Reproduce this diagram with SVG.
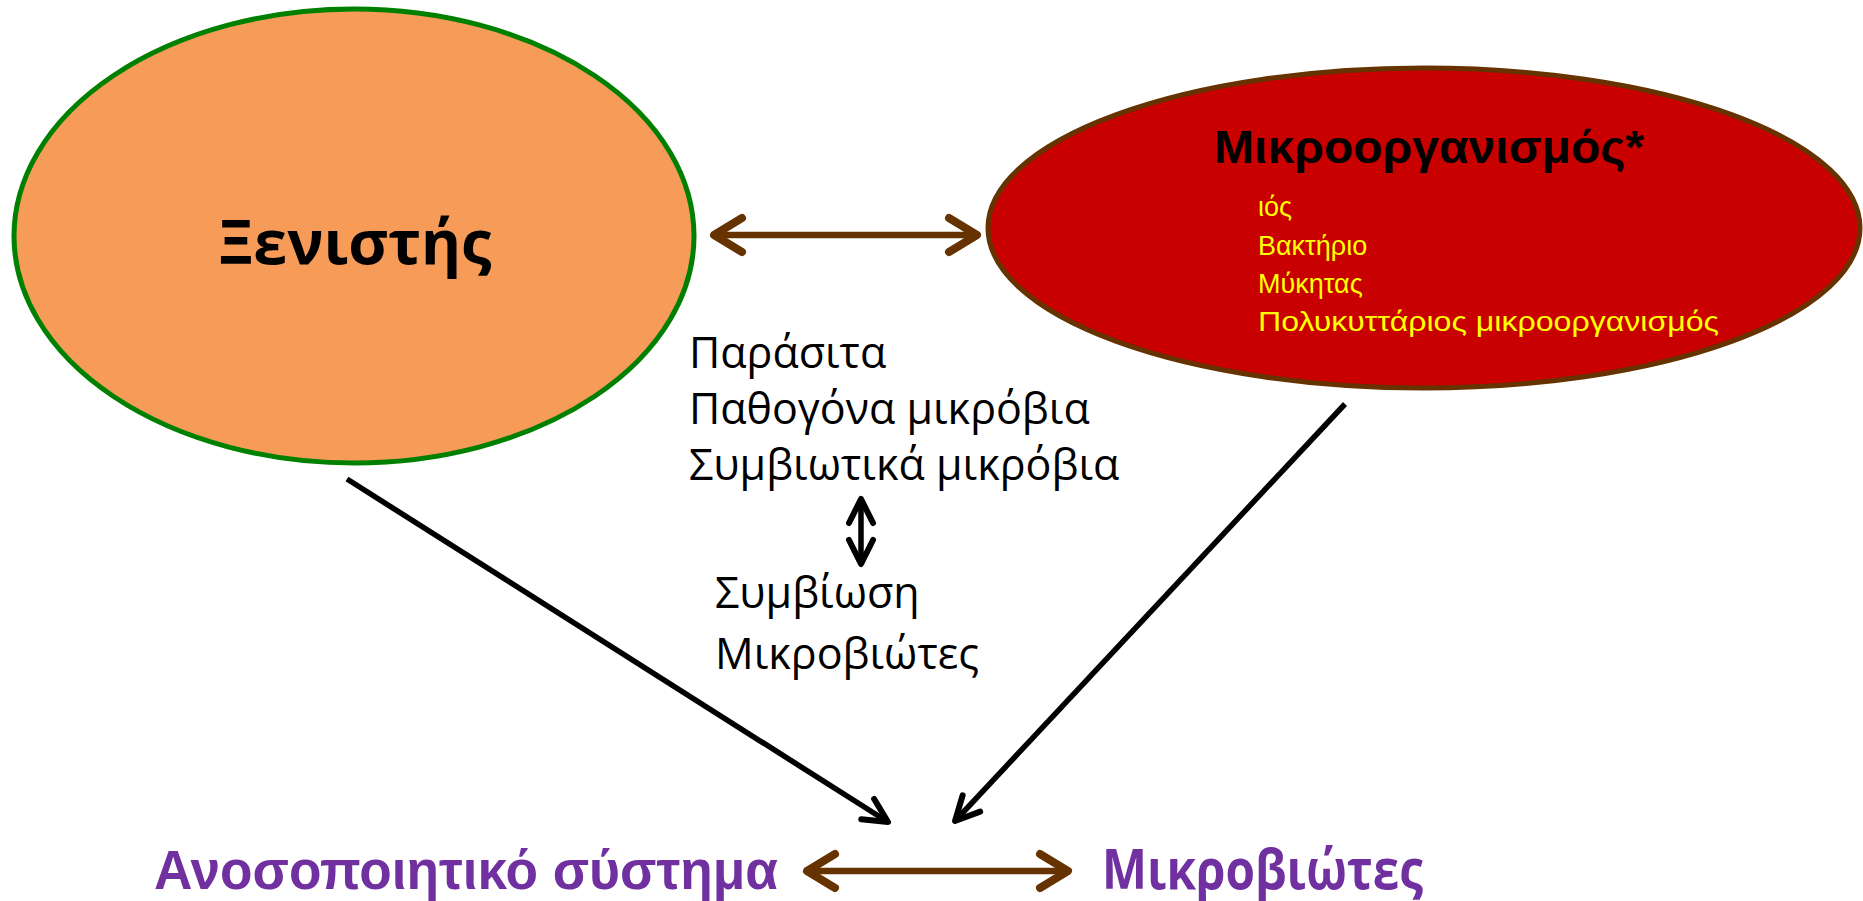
<svg xmlns="http://www.w3.org/2000/svg" width="1863" height="901" viewBox="0 0 1863 901">
<style>
.t{font-family:"Open Sans","Liberation Sans",sans-serif;fill:#000}
.b{font-family:"Liberation Sans",Arial,sans-serif;font-weight:bold}
.y{font-family:"Liberation Sans",Arial,sans-serif;fill:#FFFF00;font-size:27px}
.p{font-weight:bold;fill:#7030A0;font-size:56px}
.brown{stroke:#663300;stroke-width:6.5;fill:none}
.blk{stroke:#000;stroke-width:5.5;fill:none}
</style>
<defs>
<marker id="ab" markerUnits="userSpaceOnUse" viewBox="-40 -25 46 50" refX="0" refY="0" markerWidth="46" markerHeight="50" orient="auto-start-reverse">
<path d="M-28,-17 L0,0 L-28,17" fill="none" stroke="#663300" stroke-width="8" stroke-linecap="round" stroke-linejoin="round"/>
</marker>
<marker id="ak" markerUnits="userSpaceOnUse" viewBox="-40 -25 46 50" refX="0" refY="0" markerWidth="46" markerHeight="50" orient="auto-start-reverse">
<path d="M-24,-12 L0,0 L-24,12" fill="none" stroke="#000" stroke-width="6" stroke-linecap="round" stroke-linejoin="round"/>
</marker>
</defs>
<rect width="1863" height="901" fill="#fff"/>
<g id="host">
<ellipse cx="354" cy="236" rx="340" ry="227" fill="#F79B58" stroke="#008000" stroke-width="5"/>
<text class="t" x="355" y="264" font-size="61" font-weight="bold" text-anchor="middle">Ξενιστής</text>
</g>
<g id="microorganism">
<ellipse cx="1424" cy="228" rx="436" ry="160" fill="#C80000" stroke="#663300" stroke-width="5"/>
<text class="b" x="1214" y="163" font-size="46" textLength="430" lengthAdjust="spacingAndGlyphs">Μικροοργανισμός*</text>
<text class="y" x="1258" y="216">ιός</text>
<text class="y" x="1258" y="255">Βακτήριο</text>
<text class="y" x="1258" y="293">Μύκητας</text>
<text class="y" x="1258" y="331" textLength="461" lengthAdjust="spacingAndGlyphs">Πολυκυττάριος μικροοργανισμός</text>
</g>
<g id="relations">
<text class="t" x="689" y="368" font-size="43">Παράσιτα</text>
<text class="t" x="689" y="424" font-size="43">Παθογόνα μικρόβια</text>
<text class="t" x="689" y="480" font-size="43">Συμβιωτικά μικρόβια</text>
</g>
<g id="symbiosis">
<text class="t" x="715" y="608" font-size="43">Συμβίωση</text>
<text class="t" x="715" y="669" font-size="43">Μικροβιώτες</text>
</g>
<g id="immune">
<text class="p" x="154" y="889" font-family="Liberation Sans, Arial, sans-serif" textLength="624" lengthAdjust="spacingAndGlyphs">Ανοσοποιητικό σύστημα</text>
</g>
<g id="microbiota">
<text class="p" x="1102" y="889" font-family="Open Sans, Liberation Sans, sans-serif" textLength="321" lengthAdjust="spacingAndGlyphs">Μικροβιώτες</text>
</g>
<g id="connectors">
<line class="brown" x1="714" y1="235" x2="977" y2="235" marker-start="url(#ab)" marker-end="url(#ab)"/>
<line class="brown" x1="807" y1="871" x2="1068" y2="871" marker-start="url(#ab)" marker-end="url(#ab)"/>
<line class="blk" x1="861" y1="499" x2="861" y2="564" marker-start="url(#ak)" marker-end="url(#ak)"/>
<line class="blk" x1="347" y1="479" x2="888" y2="822" marker-end="url(#ak)"/>
<line class="blk" x1="1345" y1="404" x2="955" y2="821" marker-end="url(#ak)"/>
</g>
</svg>
